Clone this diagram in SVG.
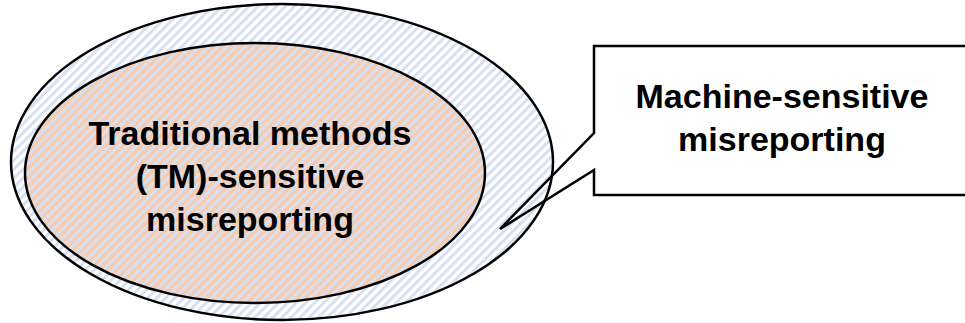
<svg xmlns="http://www.w3.org/2000/svg" width="965" height="323" viewBox="0 0 965 323">
  <defs>
    <!-- diagonal light-blue hatching on white -->
    <pattern id="hatch-white" patternUnits="userSpaceOnUse" width="6.4" height="6.4" patternTransform="rotate(45)">
      <rect width="6.4" height="6.4" fill="#ffffff"/>
      <rect width="3" height="6.4" fill="#d6e0f2"/>
    </pattern>
    <!-- same hatching over a peach base -->
    <pattern id="hatch-peach" patternUnits="userSpaceOnUse" width="6.4" height="6.4" patternTransform="rotate(45)">
      <rect width="6.4" height="6.4" fill="#f8cbad"/>
      <rect width="3" height="6.4" fill="#d6e0f2"/>
    </pattern>
    <style>
      .outline { stroke: #000; stroke-width: 2.5; }
      .label { font-family: "Liberation Sans", Arial, sans-serif; font-weight: bold; font-size: 34px; fill: #000; text-anchor: middle; }
    </style>
  </defs>

  <rect width="965" height="323" fill="#ffffff"/>

  <g id="machine-sensitive">
    <ellipse class="outline" cx="282" cy="162" rx="271" ry="158" fill="url(#hatch-white)"/>
  </g>

  <g id="tm-sensitive">
    <ellipse class="outline" cx="255" cy="173" rx="230" ry="130" fill="url(#hatch-peach)"/>
    <text class="label" x="250" y="145">Traditional methods</text>
    <text class="label" x="250" y="188">(TM)-sensitive</text>
    <text class="label" x="250" y="231">misreporting</text>
  </g>

  <g id="callout">
    <path class="outline" fill="none" stroke-linejoin="miter" d="M594 46 H975 V195 H594 V170 L500 229 L594 133 Z"/>
    <text class="label" x="782" y="108">Machine-sensitive</text>
    <text class="label" x="782" y="151">misreporting</text>
  </g>
</svg>
